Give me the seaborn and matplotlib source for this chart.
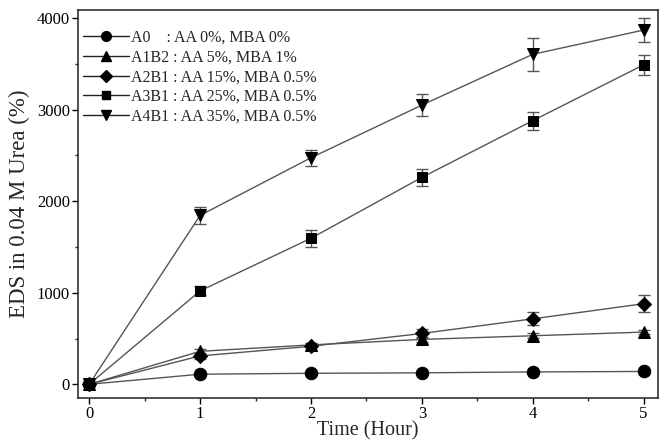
import numpy as np
import pandas as pd
import matplotlib
matplotlib.use("Agg")
import matplotlib.pyplot as plt
from matplotlib.lines import Line2D
import seaborn as sns

time = [0, 1, 2, 3, 4, 5]
labels = ["A0    : AA 0%, MBA 0%",
          "A1B2 : AA 5%, MBA 1%",
          "A2B1 : AA 15%, MBA 0.5%",
          "A3B1 : AA 25%, MBA 0.5%",
          "A4B1 : AA 35%, MBA 0.5%"]
a0 = [0, 110, 120, 125, 135, 140]
a1b2 = [0, 360, 430, 490, 530, 570]
a2b1 = [0, 310, 415, 555, 715, 880]
a3b1 = [0, 1020, 1595, 2260, 2880, 3490]
a4b1 = [0, 1845, 2475, 3050, 3605, 3870]
err_a0 = [0, 15, 15, 15, 15, 15]
err_a1b2 = [0, 25, 25, 25, 25, 25]
err_a2b1 = [0, 30, 40, 50, 70, 90]
err_a3b1 = [0, 50, 90, 90, 100, 110]
err_a4b1 = [0, 90, 90, 120, 180, 130]
markers = ["o", "^", "D", "s", "v"]

values = [a0, a1b2, a2b1, a3b1, a4b1]
errors = [err_a0, err_a1b2, err_a2b1, err_a3b1, err_a4b1]

sns.set_style("ticks")
plt.rcParams['font.family'] = ['Liberation Serif', 'DejaVu Serif']

fig = plt.figure(figsize=(6.62, 4.41), dpi=100)
ax = fig.add_axes([0.118, 0.0975, 0.876, 0.88])

rows = []
for lab, vals in zip(labels, values):
    for t, v in zip(time, vals):
        rows.append({"Time": t, "EDS": v, "Sample": lab})
df = pd.DataFrame(rows)

# error bars first, lines + markers on top
for lab, vals, errs in zip(labels, values, errors):
    ax.errorbar(time, vals, yerr=errs, fmt="none", ecolor="#555555",
                elinewidth=1, capsize=4, capthick=1, zorder=2)

sns.lineplot(data=df, x="Time", y="EDS", hue="Sample", style="Sample",
             markers=markers, dashes=False, palette=["#555555"] * 5,
             markersize=8, markerfacecolor="black", markeredgecolor="black",
             linewidth=1, ax=ax, zorder=3, legend=False)

ms = {"o": 9, "^": 9, "D": 7.5, "s": 7, "v": 9}
for line, m in zip(ax.get_lines()[-5:], markers):
    line.set_markersize(ms[m])

ax.set_xlim(-0.1, 5.13)
ax.set_ylim(-150, 4090)
ax.set_xticks(time)
ax.set_yticks([0, 1000, 2000, 3000, 4000])
ax.set_xticks(np.arange(0.5, 5.5, 1), minor=True)
ax.set_yticks(np.arange(500, 4000, 1000), minor=True)
ax.tick_params(axis="both", which="major", direction="out", length=4, width=1,
               labelsize=12, colors="black", pad=2)
ax.tick_params(axis="both", which="minor", direction="out", length=2.5, width=1)
for s in ax.spines.values():
    s.set_linewidth(1.1)
    s.set_color("#222222")

ax.set_xlabel("Time (Hour)", fontsize=14.5, labelpad=-1)
ax.set_ylabel("EDS in 0.04 M Urea (%)", fontsize=16.5, labelpad=5)

lsize = {"o": 7, "^": 7, "D": 6, "s": 6, "v": 7}
handles = [Line2D([], [], color="#222222", linewidth=1, marker=m,
                  markersize=lsize[m], markerfacecolor="black",
                  markeredgecolor="black") for m in markers]
ax.legend(handles, labels, loc="upper left", frameon=False, fontsize=11.5,
          handlelength=2.9, handletextpad=0.12, labelspacing=0.23,
          borderaxespad=0.2, bbox_to_anchor=(-0.008, 0.973))

fig.savefig("out.png", dpi=100)
